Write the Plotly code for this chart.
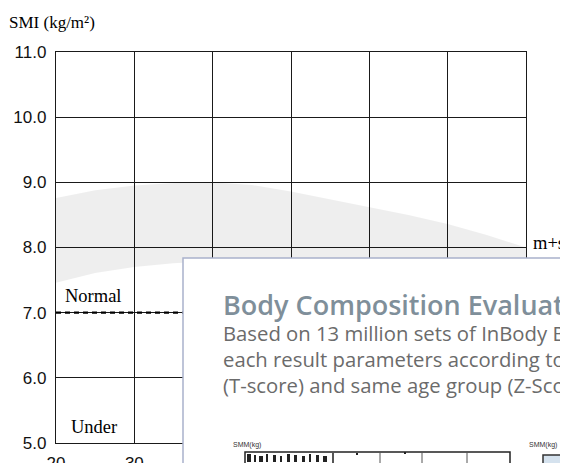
import plotly.graph_objects as go

# ---- data ----
ages = [20, 25, 30, 35, 40, 45, 50, 55, 60, 65, 70, 75, 80]
band_upper = [8.76, 8.88, 8.95, 8.99, 9.0, 8.96, 8.86, 8.74, 8.62, 8.5, 8.36, 8.19, 8.0]
band_lower = [7.46, 7.61, 7.70, 7.76, 7.79, 7.80, 7.80, 7.79, 7.77, 7.74, 7.71, 7.68, 7.65]
cutoff_x = [20, 80]
cutoff_y = [7.0, 7.0]
x_ticks = [20, 30, 40, 50, 60, 70, 80]
y_ticks = [5.0, 6.0, 7.0, 8.0, 9.0, 10.0, 11.0]

# the page has an 8px body margin: size the figure to fill the rest of the window
OFF = 8
W, H = 568 - OFF, 463 - OFF
ML, MT = 56 - OFF, 52 - OFF
PW, PH = 470, 391
MR = W - ML - PW
MB = H - MT - PH


def px(x):
    return (x - OFF - ML) / PW


def py(y):
    return (MT + PH - (y - OFF)) / PH


fig = go.Figure()
fig.add_trace(go.Scatter(
    x=ages + ages[::-1], y=band_upper + band_lower[::-1],
    fill="toself", fillcolor="rgba(0,0,0,0.065)", line=dict(width=0),
    mode="lines", hoverinfo="skip", showlegend=False))
fig.add_trace(go.Scatter(
    x=cutoff_x, y=cutoff_y, mode="lines",
    line=dict(color="#000", width=2.2, dash="5px,4px"), showlegend=False))

shapes = []
# overlay panel
shapes.append(dict(type="rect", xref="paper", yref="paper",
                   x0=px(183), x1=px(640), y0=py(258), y1=py(520),
                   fillcolor="white", line=dict(color="#a9b1cc", width=1.5),
                   layer="above"))
# thumbnail 1
shapes.append(dict(type="rect", xref="paper", yref="paper",
                   x0=px(245), x1=px(510), y0=py(452), y1=py(480),
                   fillcolor="white", line=dict(color="#222", width=1.5), layer="above"))
for vx in [333, 380, 422, 467]:
    shapes.append(dict(type="line", xref="paper", yref="paper",
                       x0=px(vx), x1=px(vx), y0=py(452), y1=py(480),
                       line=dict(color="#555", width=1 if vx != 333 else 2), layer="above"))
blobs = [(247, 251), (254, 256), (259, 263), (266, 268), (273, 276), (280, 282),
         (287, 290), (294, 297), (302, 305), (309, 311), (316, 319), (323, 327)]
for i, (a, b) in enumerate(blobs):
    shapes.append(dict(type="rect", xref="paper", yref="paper",
                       x0=px(a), x1=px(b), y0=py(454 + (i % 3)), y1=py(462),
                       fillcolor="#222", line=dict(width=0), layer="above"))
for dx, dy in [(357, 454), (405, 453)]:
    shapes.append(dict(type="rect", xref="paper", yref="paper",
                       x0=px(dx - 1), x1=px(dx + 1), y0=py(dy - 1), y1=py(dy + 1),
                       fillcolor="#222", line=dict(width=0), layer="above"))
# thumbnail 2
shapes.append(dict(type="rect", xref="paper", yref="paper",
                   x0=px(543), x1=px(620), y0=py(455), y1=py(480),
                   fillcolor="#d5e2ee", line=dict(color="#333", width=1.5), layer="above"))

serif = "Liberation Serif, Times New Roman, serif"
sans = "Liberation Sans, Arial, sans-serif"
ann = []


def add_text(text, x, y, size, family, color="#000", xanchor="left", weight=None):
    f = dict(size=size, family=family, color=color)
    if weight:
        f["weight"] = weight
    ann.append(dict(text=text, xref="paper", yref="paper", x=px(x), y=py(y),
                    xanchor=xanchor, yanchor="middle", showarrow=False, font=f))


add_text("SMI (kg/m²)", 7, 22, 17, serif)
add_text("Normal", 63, 296, 18.5, serif)
add_text("Under", 69, 427, 18.5, serif)
add_text("m+s", 531, 243, 18.5, serif)
add_text("Body Composition Evaluation", 221, 304, 27, "Open Sans", "#7f8f9a", weight=600)
add_text("Based on 13 million sets of InBody Big Data", 221, 333, 20.3, "Open Sans", "#6b6b6b")
add_text("each result parameters according to", 221, 359, 20.3, "Open Sans", "#6b6b6b")
add_text("(T-score) and same age group (Z-Score)", 221, 385, 20.3, "Open Sans", "#6b6b6b")
add_text("SMM(kg)", 231, 445, 7, sans, "#333")
add_text("SMM(kg)", 527, 445, 7, sans, "#333")

axis_common = dict(showgrid=True, gridcolor="#1a1a1a", gridwidth=1.4, showline=True,
                   mirror=True, linecolor="#1a1a1a", linewidth=1.4, zeroline=False,
                   automargin=False, ticks="outside", tickcolor="rgba(0,0,0,0)",
                   tickfont=dict(size=17, family=sans, color="#111"))

fig.update_layout(
    width=W, height=H, margin=dict(l=ML, r=MR, t=MT, b=MB, autoexpand=False),
    paper_bgcolor="white", plot_bgcolor="white",
    shapes=shapes, annotations=ann, showlegend=False,
    xaxis=dict(range=[20, 80], tickvals=x_ticks, ticklen=4, **axis_common),
    yaxis=dict(range=[5, 11], tickvals=y_ticks, tickformat=".1f", ticklen=5, **axis_common),
)
fig.write_html("out.html")
